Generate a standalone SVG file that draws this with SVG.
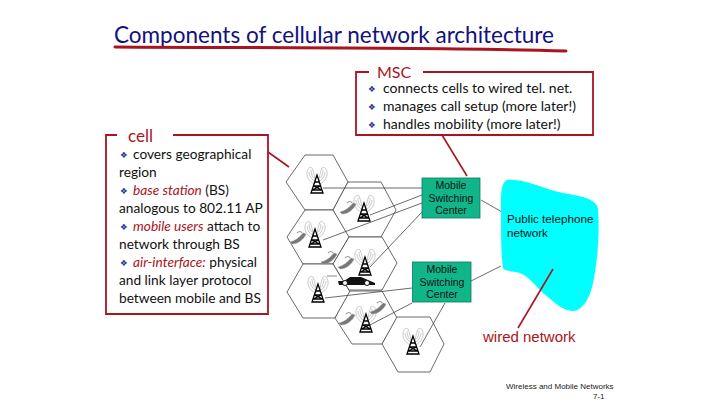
<svg xmlns="http://www.w3.org/2000/svg" xmlns:xlink="http://www.w3.org/1999/xlink" width="720" height="405" viewBox="0 0 720 405">
<style>
.g{font-family:Lato,"Liberation Sans",sans-serif;fill:#111;font-size:14px}
.s{font-size:13.700px}
.em{fill:#a81520;font-style:italic}
.bl{fill:#1c2f9c;font-size:8.500px;font-family:"DejaVu Sans",sans-serif}
.a{font-family:"Liberation Sans",Arial,sans-serif;fill:#111}
.box{fill:none;stroke:#a81520;stroke-width:1.8}
.red{stroke:#a81520;stroke-width:1.6;fill:none}
.hex{fill:#fff;stroke:#444;stroke-width:.8}
.c{stroke:#444;stroke-width:.8;fill:none}
.msc{fill:#10b58a;stroke:#0a7a5c;stroke-width:.8}
.t{font-size:10.5px;text-anchor:middle}
</style>
<defs>
<g id="tower">
<g fill="none" stroke="#bdbdbd" stroke-width=".8">
<path d="M-2 0C-6 -1 -11 -6 -10 -12C-9 -17 -7 -17 -5 -16C-3 -12 -2 -6 -2 0Z"/>
<path d="M-3 -3C-6 -5 -8 -9 -8 -12M-3.500 -6C-5 -8 -6 -11 -6 -14"/>
<path d="M2 0C6 -1 11 -6 10 -12C9 -17 7 -17 5 -16C3 -12 2 -6 2 0Z"/>
<path d="M3 -3C6 -5 8 -9 8 -12M3.500 -6C5 -8 6 -11 6 -14"/>
</g>
<path d="M0 -9L-6 9H6ZM-3.600 2H3.600M-2.600 -2H2.600M-4.800 6H4.800M-3.600 2L4.800 6M3.600 2L-4.800 6" fill="none" stroke="#000" stroke-width="1.300"/>
</g>
<g id="phone">
<path d="M-8 5C-3 4 2 0 5 -4L8 -3C6 2 0 7 -6 7Z" fill="#777" stroke="#999" stroke-width=".5"/>
<path d="M-1 -4C1 -6 3 -6 4 -4" fill="none" stroke="#999" stroke-width="1.200"/>
</g>
</defs>
<g id="title">
<text x="114" y="43" font-family="Lato,sans-serif" font-size="24" fill="#12127e" textLength="440" lengthAdjust="spacingAndGlyphs">Components of cellular network architecture</text>
<path d="M115 47C250 48 420 47 566 51" fill="none" stroke="#a81520" stroke-width="3" stroke-linecap="round"/>
</g>
<g id="cells">
<path class="hex" d="M286 182L305 155H333L348 182L333 210H305Z"/>
<path class="hex" d="M333 210L348 182H381L396 210L381 237H348Z"/>
<path class="hex" d="M287 237L305 210H333L349 237L333 264H303Z"/>
<path class="hex" d="M333 264L349 237H382L397 263L382 290H349Z"/>
<path class="hex" d="M287 292L303 264H333L350 292L335 318H303Z"/>
<path class="hex" d="M335 318L350 291H382L397 318L382 344H352Z"/>
<path class="hex" d="M382 344L397 317H430L444 344L430 372H398Z"/>
<use xlink:href="#tower" x="317" y="184"/>
<use xlink:href="#tower" x="364" y="212"/>
<use xlink:href="#tower" x="315" y="238"/>
<use xlink:href="#tower" x="365" y="266"/>
<use xlink:href="#tower" x="318" y="293"/>
<use xlink:href="#tower" x="366" y="323"/>
<use xlink:href="#tower" x="413" y="345"/>
<use xlink:href="#phone" x="348" y="207"/>
<use xlink:href="#phone" x="298" y="237"/>
<use xlink:href="#phone" x="329" y="257"/>
<use xlink:href="#phone" x="346" y="262"/>
<use xlink:href="#phone" x="347" y="318"/>
<use xlink:href="#phone" x="378" y="307"/>
<path d="M327 276H337" stroke="#888" stroke-width="1"/>
</g>
<g id="car">
<path d="M338 281H344L350 277H361L368 280L375 283V285H339Z" fill="#111"/>
<circle cx="345" cy="283" r="2.500" fill="#fff" stroke="#111"/>
<circle cx="367" cy="283" r="2.500" fill="#fff" stroke="#111"/>
</g>
<g id="connectors">
<path class="c" d="M323 188H422M370 215L422 195M323 240L422 203M370 267L422 212M325 298L412 288M370 325L412 303M420 347L445 303M481 200L502 212M471 281L501 266"/>
</g>
<g id="msc1">
<rect class="msc" x="422" y="178" width="58" height="40"/>
<text class="a t" x="451" y="189">Mobile</text><text class="a t" x="451" y="202">Switching</text><text class="a t" x="451" y="214">Center</text>
</g>
<g id="msc2">
<rect class="msc" x="412.500" y="262" width="58.500" height="40"/>
<text class="a t" x="442" y="273">Mobile</text><text class="a t" x="442" y="286">Switching</text><text class="a t" x="442" y="298">Center</text>
</g>
<g id="pstn">
<path d="M507 180C525 178 545 190 563 193C580 196 595 198 598 208C600 235 597 265 593 283C590 298 582 311 573 311C562 311 552 300 543 293C535 285 528 276 520 273C512 271 504 271 503 268C501 255 501 230 501 213C501 198 500 183 507 180Z" fill="#00ffff"/>
<text class="a" x="507" y="223" font-size="11.700">Public telephone</text>
<text class="a" x="507" y="237" font-size="11.700">network</text>
</g>
<g id="wired">
<path class="red" d="M553 269L518 328"/>
<text x="483" y="342" font-family="Liberation Sans,sans-serif" font-size="15" fill="#a81520">wired network</text>
</g>
<g id="msc-note">
<path class="box" d="M369 72H356V135H593V72H423"/>
<path class="red" d="M442 135L467 176"/>
<text x="377" y="78" font-family="Lato,sans-serif" font-size="16" fill="#a81520">MSC</text>
<text class="bl" x="368" y="92">❖</text><text class="g" x="383" y="93">connects cells to wired tel. net.</text>
<text class="bl" x="368" y="110">❖</text><text class="g" x="383" y="111">manages call setup (more later!)</text>
<text class="bl" x="368" y="128">❖</text><text class="g" x="383" y="129">handles mobility (more later!)</text>
</g>
<g id="cell-note">
<path class="box" d="M117 135H106V314H268V135H173"/>
<path class="red" d="M268 152L289 167"/>
<text x="128" y="142" font-family="Lato,sans-serif" font-size="17" fill="#a81520">cell</text>
<text class="bl" x="120" y="158">❖</text><text class="g s" x="133" y="159">covers geographical</text>
<text class="g s" x="119" y="177">region</text>
<text class="bl" x="120" y="194">❖</text><text class="g s" x="133" y="195"><tspan class="em">base station</tspan> (BS)</text>
<text class="g s" x="119" y="213">analogous to 802.11 AP</text>
<text class="bl" x="120" y="230">❖</text><text class="g s" x="133" y="231"><tspan class="em">mobile users</tspan> attach to</text>
<text class="g s" x="119" y="249">network through BS</text>
<text class="bl" x="120" y="266">❖</text><text class="g s" x="133" y="267"><tspan class="em">air-interface:</tspan> physical</text>
<text class="g s" x="119" y="285">and link layer protocol</text>
<text class="g s" x="119" y="303">between mobile and BS</text>
</g>
<g id="footer" font-family="Liberation Sans,sans-serif" font-size="8" fill="#222">
<text x="506" y="389">Wireless and Mobile Networks</text>
<text x="593" y="399">7-1</text>
</g>
</svg>
